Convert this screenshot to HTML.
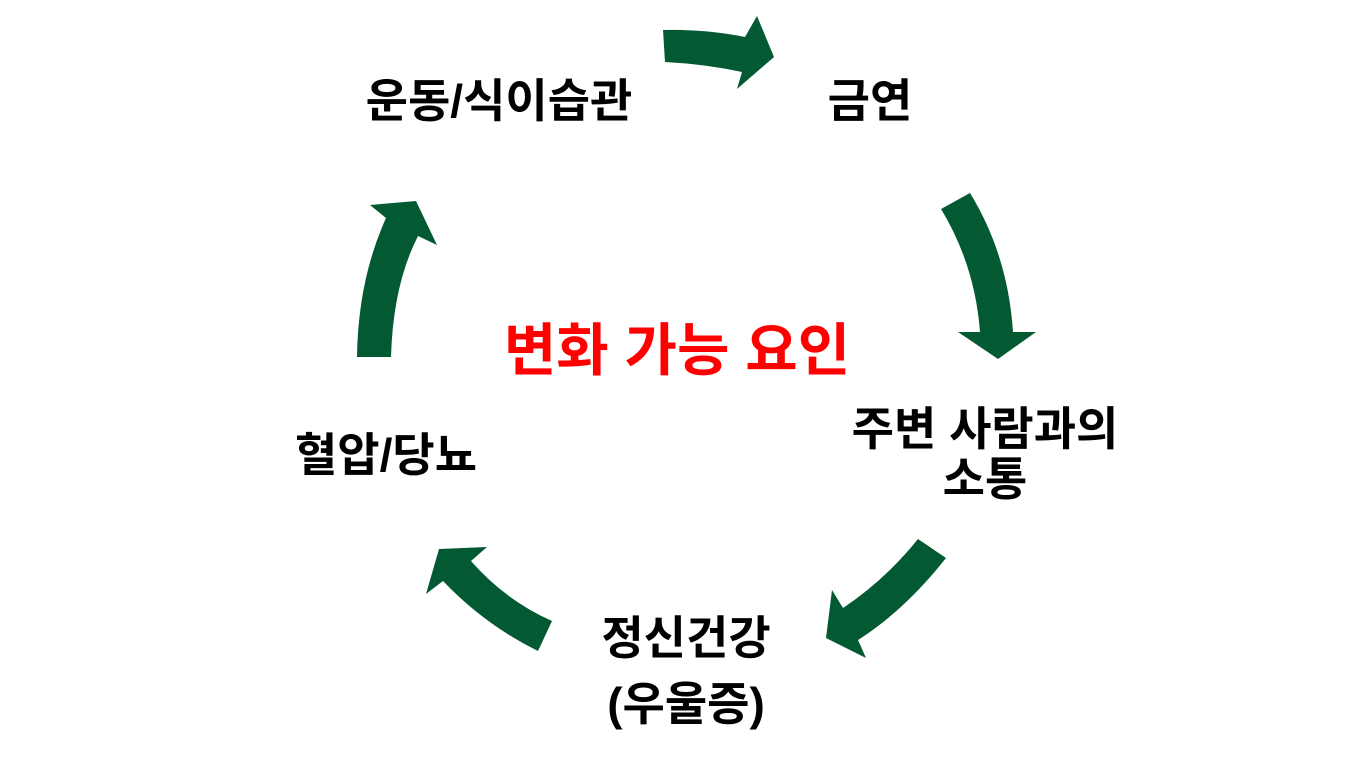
<!DOCTYPE html>
<html><head><meta charset="utf-8"><style>
html,body{margin:0;padding:0;background:#fff;}
body{width:1366px;height:768px;position:relative;overflow:hidden;font-family:"Liberation Sans","Noto Sans CJK KR",sans-serif;}
.t{position:absolute;font-weight:bold;color:#000;font-size:46px;line-height:50px;text-align:center;white-space:nowrap;transform:translateX(-50%);}
svg{position:absolute;left:0;top:0;}
</style></head><body>
<svg width="1366" height="768" viewBox="0 0 1366 768">
<g fill="#035a32">
<path d="M663,30 Q705,29 745,37 L757,16 L774,57 L737,89 L742,72 Q705,64 665,62 Z"/>
<path d="M941,209 L970,193 Q1008,255 1013,332 L1036,332 L998,359 L958,332 L980,332 Q975,265 941,209 Z"/>
<path d="M918,539 L946,558 Q905,610 858,640 L866,658 L826,638 L832,590 L843,608 Q885,580 918,539 Z"/>
<path d="M552,621 L538,651 Q485,625 443,581 L426,594 L439,549 L487,547 L471,561 Q505,600 552,621 Z"/>
<path d="M357,357 L391,357 Q393,285 418,236 L437,245 L416,201 L370,205 L386,218 Q358,280 357,357 Z"/>
</g>
</svg>
<div class="t" style="left:499px;top:76px;">운동/식이습관</div>
<div class="t" style="left:870px;top:76px;">금연</div>
<div class="t" style="left:677px;top:319px;color:#ff0000;font-size:57px;line-height:64px;">변화 가능 요인</div>
<div class="t" style="left:985px;top:404px;">주변 사람과의<br>소통</div>
<div class="t" style="left:386px;top:430px;">혈압/당뇨</div>
<div class="t" style="left:686px;top:605px;line-height:66px;">정신건강<br>(우울증)</div>
</body></html>
